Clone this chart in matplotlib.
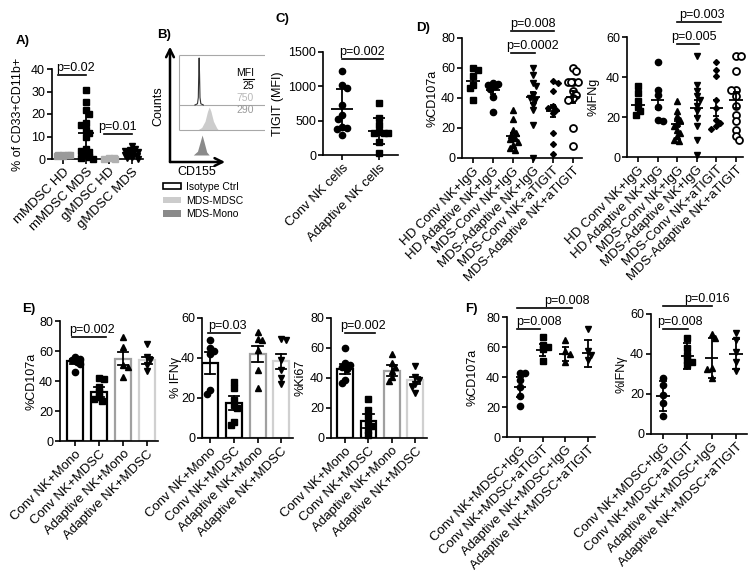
import numpy as np
import matplotlib
matplotlib.use('Agg')
import matplotlib.pyplot as plt
from matplotlib.patches import Patch

plt.rcParams['font.family'] = ['Liberation Sans', 'DejaVu Sans']
plt.rcParams['axes.linewidth'] = 1.2
FS = 9
CFS = 9.5

# ---------------- DATA ----------------
# Panel A
a_cats = ['mMDSC HD', 'mMDSC MDS', 'gMDSC HD', 'gMDSC MDS']
a_mmdsc_hd = [1.2, 1.5, 1.8, 2.0, 1.6, 1.9]
a_mmdsc_mds = [30.7, 25.5, 21.8, 20.0, 16.0, 15.0, 13.0, 11.5, 10.0, 4.5, 3.5, 3.0, 2.0, 1.0, 0.5, 0.2]
a_gmdsc_hd = [0.2, 0.3, 0.5, 0.1]
a_gmdsc_mds = [5.9, 4.5, 3.8, 3.5, 3.0, 2.8, 2.5, 2.0, 1.5, 1.0, 0.5, 0.2]
a_mean = [1.7, 11.5, 0.3, 2.4]
a_sd = [0.3, 9.0, 0.2, 2.0]

# Panel B (CD155 histograms, MFI)
b_iso_x = [19, 22, 23, 23.5, 24, 24.5, 25, 26, 29]
b_iso_y = [0, 0.05, 0.3, 1.2, 1.88, 1.2, 0.3, 0.05, 0]
b_mdsc_x = [22, 27, 31, 34, 36, 38, 41, 45, 47]
b_mdsc_y = [0, 0.1, 0.35, 0.75, 0.92, 0.75, 0.35, 0.08, 0]
b_mono_x = [17, 22, 25, 27.5, 30, 33, 36]
b_mono_y = [0, 0.15, 0.5, 0.8, 0.5, 0.12, 0]
b_mfi = ['25', '750', '290']
b_legend = ['Isotype Ctrl', 'MDS-MDSC', 'MDS-Mono']

# Panel C
c_cats = ['Conv NK cells', 'Adaptive NK cells']
c_conv = [1224, 1016, 977, 726, 581, 523, 411, 387, 373, 290]
c_adapt = [760, 532, 435, 339, 324, 324, 315, 194, 24]
c_mean = [663, 345]
c_sd = [305, 190]

# Panel D
d_cats = ['HD Conv NK+IgG', 'HD Adaptive NK+IgG', 'MDS-Conv NK+IgG',
          'MDS-Adaptive NK+IgG', 'MDS-Conv NK+aTIGIT', 'MDS-Adaptive NK+aTIGIT']
d1_vals = [
    [60, 59, 54.4, 48.9, 46.7, 38.9],
    [50, 49.5, 48.9, 47.8, 46, 41, 31],
    [32.2, 26, 18.9, 16.7, 15.5, 13.3, 12.5, 11, 8.9, 6.7, 5.5],
    [60, 55.6, 50, 47.8, 42.2, 40, 39, 35.6, 32.2, 22.2, 0],
    [51.1, 50, 44.4, 34.4, 33.5, 32.2, 30, 16.7, 9.6, 2.9],
    [60, 57.8, 50.4, 50.4, 50.4, 50.4, 44.4, 42.2, 40, 38.9, 20, 8.2],
]
d1_mean = [51.1, 45.1, 14.4, 40.5, 31.5, 40.5]
d1_sem = [3.3, 2.6, 2.2, 3.5, 4.0, 4.0]
d2_vals = [
    [35.3, 32, 27.8, 25, 22.8, 21.2],
    [47.3, 33.7, 31.2, 25, 18.7, 17.8],
    [27.8, 22.8, 20.3, 18.7, 17, 15.3, 13.7, 12, 10.3, 8.7, 7.8],
    [50.3, 36.2, 32.8, 30.3, 28.7, 25.3, 22.8, 19.5, 15.3, 8.7, 1.2],
    [47.5, 43.3, 40.3, 28.7, 24.5, 18.7, 17, 15.3, 14],
    [50.3, 50.3, 42.8, 33.7, 33.7, 30.3, 25.3, 21.2, 17.8, 13.7, 10.3, 8.7],
]
d2_mean = [26.2, 28.7, 16.5, 24.5, 24.5, 28.7]
d2_sem = [2.5, 4.6, 1.7, 3.9, 4.2, 4.0]

# Panel E
e_cats = ['Conv NK+Mono', 'Conv NK+MDSC', 'Adaptive NK+Mono', 'Adaptive NK+MDSC']
e1_vals = [[56, 54.9, 53.8, 52.7, 51.6, 46], [42.2, 41.5, 36, 32.7, 29.3, 28, 27],
           [69.3, 62.7, 50.4, 49.3, 43], [65, 56, 53.8, 50.4, 47]]
e1_mean = [53.1, 32.7, 54.9, 53.8]
e1_sem = [1.6, 3.4, 4.4, 2.3]
e2_vals = [[49, 45, 43.5, 42, 24, 22], [28, 25, 19, 16.5, 15, 8, 6.5],
           [53, 49.5, 49, 44, 34, 25], [49.5, 49, 39, 34, 30, 27]]
e2_mean = [37.5, 17.5, 42.2, 38.3]
e2_sem = [5.5, 3.7, 4.0, 3.9]
e3_vals = [[60, 50, 49, 47.5, 46, 38.5, 36.5], [26, 19, 14.6, 10, 8, 5.6, 1.8],
           [56, 50, 47.5, 45, 40.5, 38], [47.7, 41, 38.8, 36, 33.7, 29.7]]
e3_mean = [46, 11.3, 45, 38.5]
e3_sem = [3.5, 4.5, 3.5, 2.4]

# Panel F
f_cats = ['Conv NK+MDSC+IgG', 'Conv NK+MDSC+aTIGIT',
          'Adaptive NK+MDSC+IgG', 'Adaptive NK+MDSC+aTIGIT']
f1_vals = [[42.9, 42.5, 38, 33.5, 27.3, 20.6], [67, 61.5, 60.3, 58.5, 51],
           [64.4, 57.2, 55.5, 50.3], [72, 57.5, 55, 51.4]]
f1_mean = [33.5, 58.0, 55.2, 55.9]
f1_sd = [6.7, 4.2, 4.6, 9.0]
f2_vals = [[27.9, 24.6, 19.6, 15.5, 9.1], [48.2, 43, 39.5, 37, 36, 34.5],
           [49.9, 48.2, 33.2, 32.6, 27.9], [50.4, 47, 41.2, 36.2, 31.7]]
f2_mean = [19.1, 39.1, 38.2, 40.1]
f2_sd = [7.5, 6.5, 10.0, 7.4]

# ---------------- FIGURE ----------------
W, H = 755, 571
fig = plt.figure(figsize=(W / 100, H / 100), dpi=100)


def make_ax(left, right, ytop, yzero, ymax, xlim, yticks, ylabel, label_cx,
            cats, cat_fs=CFS):
    ax = fig.add_axes([left / W, 1 - yzero / H, (right - left) / W, (yzero - ytop) / H])
    ax.set_xlim(*xlim)
    ax.set_ylim(0, ymax)
    ax.set_yticks(yticks)
    for s in ['top', 'right']:
        ax.spines[s].set_visible(False)
    ax.tick_params(axis='both', length=3.5, width=1.2, labelsize=FS, pad=1.5)
    ax.set_xticks(range(len(cats)))
    ax.set_xticklabels(cats, rotation=45, ha='right', rotation_mode='anchor', fontsize=cat_fs)
    ax.set_ylabel(ylabel, fontsize=FS)
    right_edge = label_cx + 5
    ax.yaxis.set_label_coords((right_edge - left) / (right - left), 0.5)
    return ax


def swarm(ax, vals, diam_px, maxoff_px):
    pos = ax.get_position()
    x0, x1 = ax.get_xlim()
    y0, y1 = ax.get_ylim()
    ppx = pos.width * W / (x1 - x0)
    ppy = pos.height * H / (y1 - y0)
    vals = np.asarray(vals, float)
    offs = np.zeros(len(vals))
    placed = []
    order = np.argsort(-vals, kind='stable')
    pref = 1
    bestcand = 0.0
    for k in order:
        y = vals[k] * ppy
        best = None
        bestpen = None
        for step in range(0, 30):
            cands = [0.0] if step == 0 else [pref * step * diam_px * 0.3, -pref * step * diam_px * 0.3]
            for xo in cands:
                if abs(xo) > maxoff_px:
                    continue
                pen = sum(max(0, diam_px * 0.8 - np.hypot(xo - px, y - py)) for px, py in placed)
                if pen == 0:
                    best = xo
                    break
                if bestpen is None or pen < bestpen:
                    bestpen, bestcand = pen, xo
            if best is not None:
                break
        if best is None:
            best = bestcand
        if best != 0:
            pref = -np.sign(best)
        placed.append((best, y))
        offs[k] = best / ppx
    return offs


def dots(ax, x, vals, marker, ms=4.5, color='black', mfc=None, diam=5.5, maxoff=6,
         mew=1.0):
    offs = swarm(ax, vals, diam, maxoff)
    ax.plot(x + offs, vals, ls='none', marker=marker, ms=ms, mec=color,
            mfc=color if mfc is None else mfc, mew=mew, clip_on=False, zorder=3)


def meanerr(ax, x, m, e, lw_w, cap_w, color='black', lw=1.3):
    ax.plot([x - lw_w / 2, x + lw_w / 2], [m, m], color=color, lw=lw, zorder=4, solid_capstyle='butt')
    ax.plot([x, x], [m - e, m + e], color=color, lw=lw, zorder=4)
    for yy in (m - e, m + e):
        ax.plot([x - cap_w / 2, x + cap_w / 2], [yy, yy], color=color, lw=lw, zorder=4,
                solid_capstyle='butt')


def bracket(ax, x0, x1, y, text, tx):
    ax.plot([x0, x1], [y, y], color='black', lw=1.2, clip_on=False)
    ax.annotate(text, xy=(tx, y), xytext=(0, 0.8), textcoords='offset points',
                ha='center', va='bottom', fontsize=FS, annotation_clip=False)


# ---- Panel A ----
axA = make_ax(52, 143, 69, 159, 40, (-0.5, 3.5), [0, 10, 20, 30, 40],
              '% of CD33+CD11b+', 19, a_cats)
a_groups = [(a_mmdsc_hd, 's', '#9a9a9a'), (a_mmdsc_mds, 's', 'black'),
            (a_gmdsc_hd, 's', '#b0b0b0'), (a_gmdsc_mds, 'v', 'black')]
for i, (vals, mk, col) in enumerate(a_groups):
    dots(axA, i, vals, mk, ms=4.3, color=col, diam=5.5, maxoff=7)
    meanerr(axA, i, a_mean[i], a_sd[i], 0.7, 0.3, color=col)
bracket(axA, -0.22, 1.0, 37.3, 'p=0.02', 0.52)
bracket(axA, 1.8, 3.0, 11.1, 'p=0.01', 2.39)

# ---- Panel B ----
axB = fig.add_axes([170 / W, 1 - 162 / H, 95 / W, 112 / H])
axB.set_xlim(-10.7, 102.4)
axB.set_ylim(-0.28, 4.2)
axB.axis('off')
axB.hlines([1, 2, 4], 0, 102.4, color='#a8a8a8', lw=0.8)
axB.vlines(0, 1, 4, color='#a8a8a8', lw=0.8)
axB.fill_between(b_mono_x, 0, b_mono_y, color='#8a8a8a', lw=0)
axB.fill_between(b_mdsc_x, 1, 1 + np.array(b_mdsc_y), color='#cccccc', lw=0)
axB.fill_between(b_iso_x, 2, 2 + np.array(b_iso_y), color='white', lw=0)
axB.plot(b_iso_x, 2 + np.array(b_iso_y), color='#333333', lw=0.8)
axB.annotate('', xy=(0, 1.03), xytext=(0, 0), xycoords='axes fraction',
             arrowprops=dict(arrowstyle='->', lw=1.8, color='black', shrinkA=0, shrinkB=0,
                             mutation_scale=14))
axB.annotate('', xy=(0.58, 0), xytext=(0, 0), xycoords='axes fraction',
             arrowprops=dict(arrowstyle='->', lw=1.8, color='black', shrinkA=0, shrinkB=0,
                             mutation_scale=14))
axB.text(-0.12, 0.5, 'Counts', transform=axB.transAxes, rotation=90, ha='center',
         va='center', fontsize=FS)
axB.text(0.28, -0.09, 'CD155', transform=axB.transAxes, ha='center', va='center', fontsize=FS)
axB.text(89, 3.28, 'MFI', ha='right', va='center', fontsize=7.5)
axB.plot([76.5, 89], [3.04, 3.04], color='black', lw=0.8)
mfi_cols = ['black', '#b8b8b8', '#9a9a9a']
for k, (t, c) in enumerate(zip(b_mfi, mfi_cols)):
    axB.text(89, 2.76 - 0.48 * k, t, ha='right', va='center', fontsize=7.5, color=c)
handles = [Patch(facecolor='white', edgecolor='black', lw=1.2),
           Patch(facecolor='#cccccc', edgecolor='none'),
           Patch(facecolor='#8a8a8a', edgecolor='none')]
fig.legend(handles, b_legend, loc='upper left', bbox_to_anchor=(163 / W, 1 - 182 / H),
           frameon=False, fontsize=7.5, handlelength=1.7, handleheight=0.55,
           handletextpad=0.5, labelspacing=0.35, borderpad=0, borderaxespad=0)

# ---- Panel C ----
axC = make_ax(323, 398, 52, 155, 1500, (-0.51, 1.51), [0, 500, 1000, 1500],
              'TIGIT (MFI)', 279, c_cats)
dots(axC, 0, c_conv, 'o', ms=4.5, diam=6, maxoff=10)
dots(axC, 1, c_adapt, 's', ms=4.3, diam=6, maxoff=10)
for i in range(2):
    meanerr(axC, i, c_mean[i], c_sd[i], 0.57, 0.3)
bracket(axC, 0.0, 1.1, 1398, 'p=0.002', 0.54)

# ---- Panel D ----
d_markers = [('s', 4.3, None, 1.0), ('o', 4.5, None, 1.0), ('^', 4.5, None, 1.0),
             ('v', 4.5, None, 1.0), ('D', 3.0, None, 1.0), ('o', 5.0, 'white', 1.3)]
axD1 = make_ax(462, 582, 38, 158, 80, (-0.55, 5.45), [0, 20, 40, 60, 80],
               '%CD107a', 433, d_cats)
axD2 = make_ax(627, 743, 37, 157, 60, (-0.56, 5.36), [0, 20, 40, 60],
               '%IFNg', 595, d_cats)
for ax, vals_l, means, sems in [(axD1, d1_vals, d1_mean, d1_sem), (axD2, d2_vals, d2_mean, d2_sem)]:
    for i, vals in enumerate(vals_l):
        mk, ms, mfc, mew = d_markers[i]
        dots(ax, i, vals, mk, ms=ms, mfc=mfc, mew=mew, diam=5.5, maxoff=6)
        meanerr(ax, i, means[i], sems[i], 0.67, 0.3)
bracket(axD1, 1.9, 3.1, 70, 'p=0.0002', 2.95)
bracket(axD1, 1.9, 4.05, 84.7, 'p=0.008', 3.0)
bracket(axD2, 1.99, 3.1, 56.5, 'p=0.005', 2.86)
bracket(axD2, 1.99, 4.23, 67.5, 'p=0.003', 3.27)

# ---- Panel E ----
e_markers = ['o', 's', '^', 'v']
e_edges = ['black', 'black', '#a0a0a0', '#d0d0d0']
axE1 = make_ax(60, 158, 321, 441, 80, (-0.63, 3.46), [0, 20, 40, 60, 80],
               '%CD107a', 32, e_cats)
axE2 = make_ax(202, 293, 318, 438, 60, (-0.35, 3.5), [0, 20, 40, 60],
               '% IFNγ', 177, e_cats)
axE3 = make_ax(331, 427, 318, 438, 80, (-0.6, 3.5), [0, 20, 40, 60, 80],
               '%Ki67', 302, e_cats)
for ax, vals_l, means, sems in [(axE1, e1_vals, e1_mean, e1_sem),
                                (axE2, e2_vals, e2_mean, e2_sem),
                                (axE3, e3_vals, e3_mean, e3_sem)]:
    ax.bar(range(4), means, width=0.68, facecolor='white', edgecolor=e_edges, lw=1.6, zorder=2)
    for i, vals in enumerate(vals_l):
        dots(ax, i, vals, e_markers[i], ms=4.5, diam=5.5, maxoff=6)
        m, e = means[i], sems[i]
        ax.plot([i, i], [m - e, m + e], color='black', lw=1.3, zorder=4)
        for yy in (m - e, m + e):
            ax.plot([i - 0.22, i + 0.22], [yy, yy], color='black', lw=1.3, zorder=4)
bracket(axE1, -0.12, 1.29, 69.3, 'p=0.002', 0.7)
bracket(axE2, -0.08, 1.27, 52.5, 'p=0.03', 0.71)
bracket(axE3, 0.0, 1.28, 70, 'p=0.002', 0.77)

# ---- Panel F ----
axF1 = make_ax(507, 595, 317, 437, 80, (-0.57, 3.3), [0, 20, 40, 60, 80],
               '%CD107a', 473, f_cats)
axF2 = make_ax(651, 747, 314, 434, 60, (-0.5, 3.45), [0, 20, 40, 60],
               '%IFNγ', 623, f_cats)
for ax, vals_l, means, sds in [(axF1, f1_vals, f1_mean, f1_sd), (axF2, f2_vals, f2_mean, f2_sd)]:
    for i, vals in enumerate(vals_l):
        dots(ax, i, vals, e_markers[i], ms=4.5, diam=5.5, maxoff=6)
        meanerr(ax, i, means[i], sds[i], 0.55, 0.33)
bracket(axF1, -0.13, 2.29, 86, 'p=0.008', 2.07)
bracket(axF1, -0.13, 0.88, 72, 'p=0.008', 0.84)
bracket(axF2, 0.0, 2.0, 64, 'p=0.016', 1.81)
bracket(axF2, 0.0, 1.03, 52.5, 'p=0.008', 0.7)

# ---- Panel labels ----
for lab, x, y in [('A)', 23, 41), ('B)', 164, 35), ('C)', 282, 19), ('D)', 423, 28),
                  ('E)', 29, 309), ('F)', 471, 309)]:
    fig.text(x / W, 1 - y / H, lab, fontsize=9.5, fontweight='bold', ha='center', va='center')

fig.savefig('out.png', dpi=100)
